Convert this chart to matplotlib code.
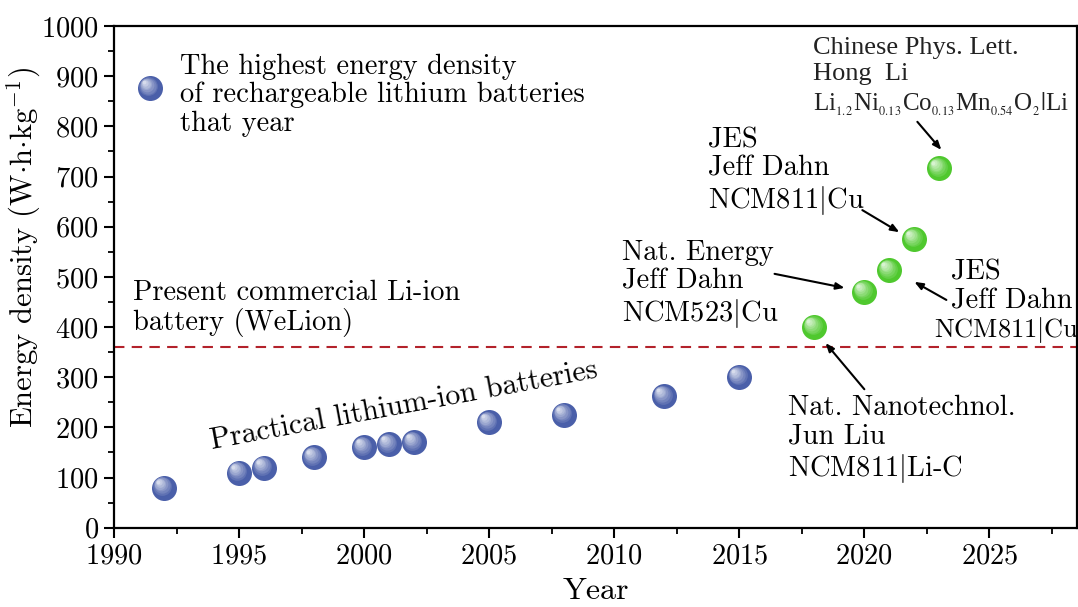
import matplotlib
matplotlib.use("Agg")
import matplotlib.pyplot as plt
import matplotlib.transforms as mtransforms
import numpy as np

# data
years_li = [1992, 1995, 1996, 1998, 2000, 2001, 2002, 2005, 2008, 2012, 2015]
dens_li = [80, 110, 120, 140, 160, 166, 170, 210, 225, 262, 300]
years_new = [2018, 2020, 2021, 2022, 2023]
dens_new = [400, 470, 513, 575, 716]
commercial = 360

plt.rcParams['font.family'] = ['cmr10']
plt.rcParams['mathtext.fontset'] = 'cm'
plt.rcParams['axes.formatter.use_mathtext'] = True
plt.rcParams['axes.unicode_minus'] = False

BLUE = '#4a5fa9'
GREEN = '#4fc82e'
FS = 20.5

fig = plt.figure(figsize=(10.78, 6.07), dpi=100)
ax = fig.add_axes([0.1058, 0.1306, 0.8932, 0.8266])


def blend(c, t):
    c = np.array(matplotlib.colors.to_rgb(c))
    return tuple(c + (1 - c) * t)


def spheres(x, y, color, size=18):
    ax.plot(x, y, 'o', ms=size, color=color, mec=color, mew=0, zorder=3, clip_on=False)
    # fake shading: stacked lighter discs toward the upper left
    for i, f in enumerate(np.linspace(0.75, 0.15, 7)):
        off = (1 - f) * size * 0.28
        tr = mtransforms.offset_copy(ax.transData, fig, x=-off, y=off, units='points')
        ax.plot(x, y, 'o', ms=size * f, color=blend(color, 0.12 + 0.11 * i), mew=0,
                transform=tr, zorder=4 + i, clip_on=False)


spheres(years_li, dens_li, BLUE)
spheres(years_new, dens_new, GREEN)
spheres([1991.44], [876], BLUE)

ax.axhline(commercial, color='#b3222b', lw=1.5, dashes=(5, 3.5), zorder=2)

ax.set_xlim(1990, 2028.5)
ax.set_ylim(0, 1000)
ax.set_xticks(np.arange(1990, 2026, 5))
ax.set_xticks(np.arange(1992.5, 2028.5, 5), minor=True)
ax.set_yticks(np.arange(0, 1001, 100))
ax.set_yticks(np.arange(50, 1000, 100), minor=True)
ax.tick_params(which='major', direction='out', length=7, width=1.5, labelsize=FS, pad=4)
ax.tick_params(which='minor', direction='out', length=4, width=1.3)
for s in ax.spines.values():
    s.set_linewidth(1.6)

ax.set_xlabel('Year', fontsize=23, labelpad=6)
ax.set_ylabel(r'Energy density (W$\cdot$h$\cdot$kg$^{-1}$)', fontsize=22)
ax.yaxis.set_label_coords(-0.074, 0.558)

ax.text(1992.64, 862, 'The highest energy density\nof rechargeable lithium batteries\nthat year',
        fontsize=FS, va='center', ha='left', linespacing=1.1)
ax.text(1990.76, 437, 'Present commercial Li-ion\nbattery (WeLion)',
        fontsize=FS, va='center', ha='left', linespacing=1.1)
ax.text(1993.9, 157, 'Practical lithium-ion batteries', fontsize=21.5, rotation=10.5,
        rotation_mode='anchor', ha='left', va='baseline')

ax.text(2017.93, 930, 'Chinese Phys. Lett.\nHong  Li',
        family='Liberation Serif', fontsize=19, va='center', ha='left', linespacing=1.25,
        color='#222222')
ax.text(2017.93, 832,
        r'Li$_{_{1.2}}$Ni$_{_{0.13}}$Co$_{_{0.13}}$Mn$_{_{0.54}}$O$_{_{2}}$$|$Li',
        family='Liberation Serif', math_fontfamily='stix', fontsize=18, va='baseline',
        ha='left', color='#222222')
ax.text(2013.73, 709, 'JES\nJeff Dahn\nNCM811$|$Cu', fontsize=FS, va='center', ha='left',
        linespacing=1.1)
ax.text(2010.3, 484, 'Nat. Energy\nJeff Dahn\nNCM523$|$Cu', fontsize=FS, va='center', ha='left',
        linespacing=1.1)
ax.text(2023.48, 480, 'JES\nJeff Dahn', fontsize=FS, va='center', ha='left', linespacing=1.1)
ax.text(2022.8, 394, 'NCM811$|$Cu', fontsize=19, va='center', ha='left')
ax.text(2016.93, 175, 'Nat. Nanotechnol.\nJun Liu\nNCM811$|$Li-C', fontsize=FS, va='center',
        ha='left', linespacing=1.1)

arrows = [((2023.08, 753), (2022.12, 809)),
          ((2021.40, 589), (2019.92, 633)),
          ((2019.21, 478), (2016.41, 506)),
          ((2022.0, 490), (2023.28, 454)),
          ((2018.45, 368), (2020.0, 276))]
for head, tail in arrows:
    ax.annotate('', xy=head, xytext=tail,
                arrowprops=dict(arrowstyle='-|>,head_length=0.5,head_width=0.2',
                                color='black', lw=1.5, shrinkA=0, shrinkB=0))

fig.savefig('out.png', dpi=100)
